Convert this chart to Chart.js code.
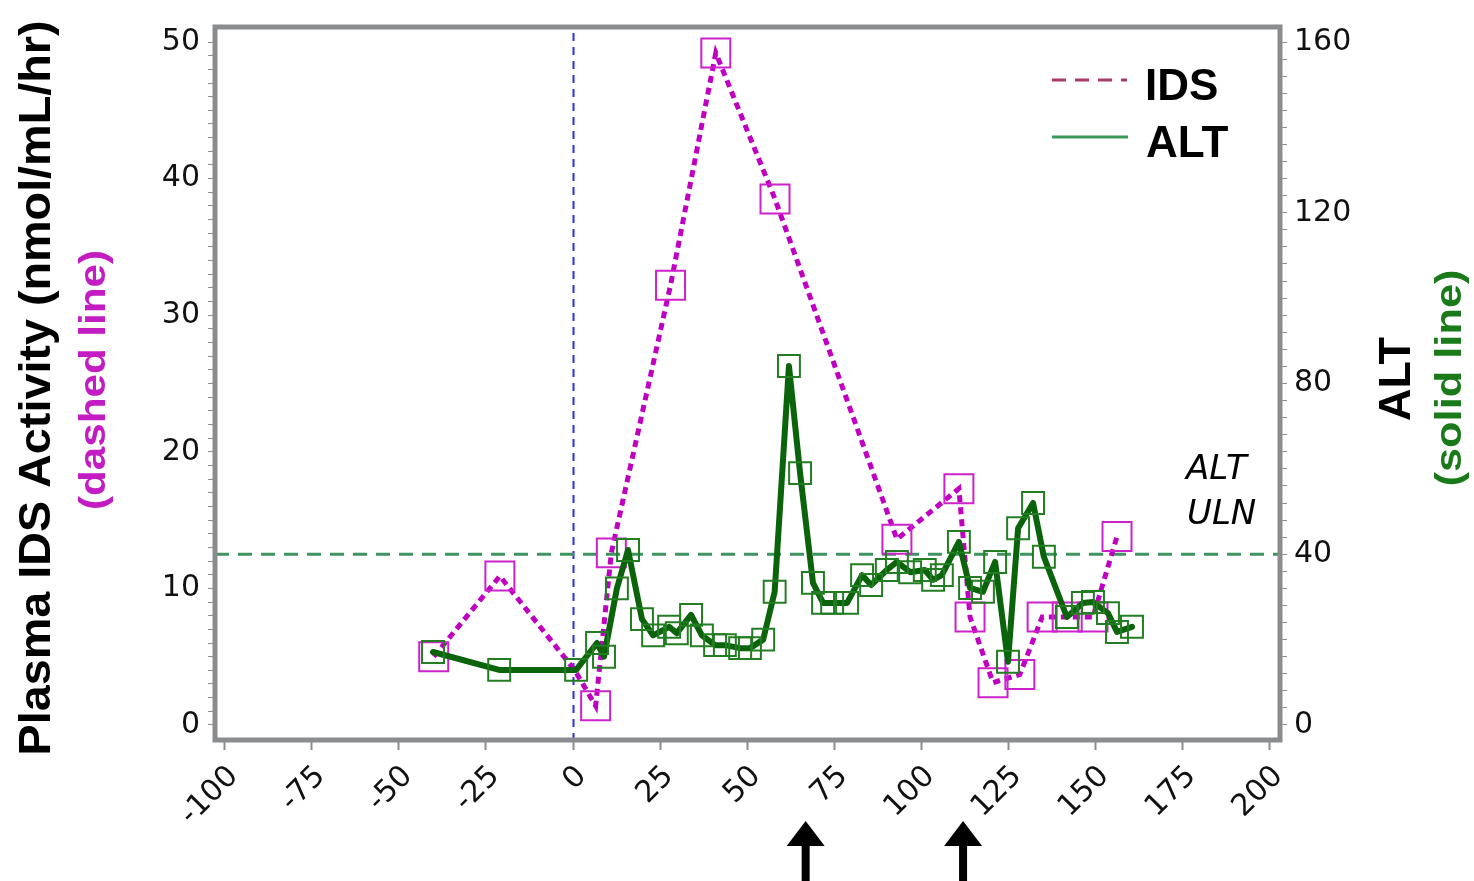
<!DOCTYPE html>
<html>
<head>
<meta charset="utf-8">
<script src="https://cdn.jsdelivr.net/npm/chart.js@4"></script>
<style>
  html, body { margin: 0; padding: 0; background: #fff; }
  #box { width: 1474px; height: 881px; }
</style>
</head>
<body>
<div id="box"><canvas id="chart"></canvas></div>
<script>
// days and values
const IDS_DAYS = [-40, -21, 0.5, 6.5, 11, 28, 41, 58, 93, 110.8, 114, 120.6, 128.3, 134.7, 141.9, 149.3, 156.2]
const IDS_VALUES = [5.0, 10.9, 4.0, 1.4, 12.6, 32.2, 49.2, 38.5, 13.6, 17.3, 7.9, 3.1, 3.7, 7.9, 7.9, 7.9, 13.8]

const ALT_DAYS = [-40.2, -21.2, 0.9, 6.9, 8.9, 12.6, 15.8, 19.8, 23, 27.6, 29.8, 33.9, 37, 40.8, 43.6, 48, 50.8, 54.6, 57.9,
  62, 65.2, 68.9, 71.8, 74.4, 78.7, 83, 85.6, 90.1, 93, 96.8, 101, 103.4, 105.9, 110.8, 114, 117.7, 121.2, 124.9, 127.8,
  132.1, 135.2, 141.8, 146.4, 149.3, 153.6, 156.2, 160.5]
const ALT_VALUES = [17.1, 12.9, 12.9, 19.2, 16, 32, 41, 24.8, 21, 23, 21.5, 25.8, 21, 18.7, 18.7, 18, 18, 20, 31.2,
  84.1, 59, 33.3, 28.6, 28.6, 28.6, 35.1, 32.8, 36.3, 38.2, 35.8, 36.3, 34, 35.1, 42.9, 32.1, 31.2, 38.2, 14.8, 46.1,
  52, 39.4, 25.3, 28.6, 28.8, 26.2, 21.8, 23]

// tick values
const X_TICKS = [-100, -75, -50, -25, 0, 25, 50, 75, 100, 125, 150, 175, 200]
const IDS_TICKS = [0, 10, 20, 30, 40, 50]
const ALT_TICKS = [0, 40, 80, 120, 160]

const ALT_ULN = 40
const DOSE_DAY = 0
const ARROW_DAYS = [66.8, 112]


// list of ticks with minor steps
function stepTicks(from, to, step) {
  const result = []

  for (let v = from; v <= to; v += step) {
    result.push({ value: v })
  }

  return result
}


// rotated text squeezed to a length
function sideText(ctx, text, cx, cy, font, color, length) {
  ctx.save()
  ctx.translate(cx, cy)
  ctx.rotate(-Math.PI / 2)
  ctx.font = font
  ctx.fillStyle = color
  ctx.textAlign = "center"
  ctx.textBaseline = "middle"
  const w = ctx.measureText(text).width
  ctx.scale(length / w, 1)
  ctx.fillText(text, 0, 0)
  ctx.restore()
}


// frame, reference lines, titles, legend and arrows
const extras = {
  id: "extras",

  beforeDatasetsDraw(chart) {
    const ctx = chart.ctx
    const a = chart.chartArea
    const x = chart.scales.x
    const y1 = chart.scales.y1

    ctx.save()

    // dose day line
    const dx = Math.round(x.getPixelForValue(DOSE_DAY)) + 0.5
    ctx.strokeStyle = "#2b2be8"
    ctx.lineWidth = 2
    ctx.setLineDash([8, 6])
    ctx.beginPath()
    ctx.moveTo(dx, a.top + 6)
    ctx.lineTo(dx, a.bottom)
    ctx.stroke()

    // upper limit of normal
    const uy = y1.getPixelForValue(ALT_ULN)
    ctx.strokeStyle = "#3d9460"
    ctx.lineWidth = 3
    ctx.setLineDash([14, 9])
    ctx.beginPath()
    ctx.moveTo(a.left, uy)
    ctx.lineTo(a.right, uy)
    ctx.stroke()

    ctx.restore()
  },

  afterDraw(chart) {
    const ctx = chart.ctx
    const a = chart.chartArea
    const x = chart.scales.x

    ctx.save()

    // grey frame
    ctx.strokeStyle = "#8a8c8e"
    ctx.lineWidth = 5
    ctx.setLineDash([])
    ctx.strokeRect(a.left, a.top, a.right - a.left, a.bottom - a.top)

    // legend
    ctx.lineWidth = 3
    ctx.strokeStyle = "#a83a6c"
    ctx.setLineDash([14, 9])
    ctx.beginPath()
    ctx.moveTo(a.right - 228, 80)
    ctx.lineTo(a.right - 153, 80)
    ctx.stroke()

    ctx.strokeStyle = "#3a9a5a"
    ctx.setLineDash([])
    ctx.beginPath()
    ctx.moveTo(a.right - 228, 137)
    ctx.lineTo(a.right - 152, 137)
    ctx.stroke()

    ctx.fillStyle = "#000"
    ctx.font = "bold 44px 'Liberation Sans', Arial, sans-serif"
    ctx.textBaseline = "alphabetic"
    ctx.fillText("IDS", a.right - 135, 100)
    ctx.fillText("ALT", a.right - 134, 157)

    // ULN label
    ctx.font = "italic 34px 'DejaVu Sans', sans-serif"
    ctx.fillText("ALT", a.right - 94, 479)
    ctx.fillText("ULN", a.right - 93, 524)

    // axis titles
    sideText(ctx, "Plasma IDS Activity (nmol/mL/hr)", 38, 388,
      "bold 44px 'Liberation Sans', Arial, sans-serif", "#000", 735)
    sideText(ctx, "(dashed line)", 95, 380,
      "bold 36px 'Liberation Sans', Arial, sans-serif", "#c21cc2", 260)
    sideText(ctx, "ALT", 1398, 379,
      "bold 44px 'Liberation Sans', Arial, sans-serif", "#000", 84)
    sideText(ctx, "(solid line)", 1451, 378,
      "bold 36px 'Liberation Sans', Arial, sans-serif", "#1a7a1a", 217)

    // arrows under the axis
    ctx.fillStyle = "#000"
    ARROW_DAYS.forEach(function (day) {
      const px = x.getPixelForValue(day)
      ctx.beginPath()
      ctx.moveTo(px, 821)
      ctx.lineTo(px + 19, 846)
      ctx.lineTo(px + 4, 846)
      ctx.lineTo(px + 4, 881)
      ctx.lineTo(px - 4, 881)
      ctx.lineTo(px - 4, 846)
      ctx.lineTo(px - 19, 846)
      ctx.closePath()
      ctx.fill()
    })

    ctx.restore()
  },
}


const tickFont = { family: "'DejaVu Sans', sans-serif", size: 30 }

new Chart(document.getElementById("chart"), {
  type: "line",
  data: {
    datasets: [
      {
        label: "IDS",
        data: IDS_DAYS.map(function (d, i) { return { x: d, y: IDS_VALUES[i] } }),
        yAxisID: "y",
        order: 2,
        borderColor: "#c000c0",
        borderWidth: 5,
        borderDash: [7, 5],
        tension: 0,
        pointStyle: "rect",
        pointRadius: function (c) { return c.dataIndex === 2 ? 0 : 20.5 },
        pointBorderColor: "#cc22cc",
        pointBorderWidth: 2,
        pointBackgroundColor: "rgba(0,0,0,0)",
      },
      {
        label: "ALT",
        data: ALT_DAYS.map(function (d, i) { return { x: d, y: ALT_VALUES[i] } }),
        yAxisID: "y1",
        order: 1,
        borderColor: "#0b640b",
        borderWidth: 6,
        borderJoinStyle: "round",
        borderCapStyle: "round",
        tension: 0,
        pointStyle: "rect",
        pointRadius: 15.5,
        pointBorderColor: "#237d23",
        pointBorderWidth: 2,
        pointBackgroundColor: "rgba(0,0,0,0)",
      },
    ],
  },
  options: {
    responsive: true,
    maintainAspectRatio: false,
    animation: false,
    layout: { padding: { top: 27, left: 0, right: 0, bottom: 0 } },
    plugins: { legend: { display: false }, tooltip: { enabled: false } },
    scales: {
      x: {
        type: "linear",
        min: -102.8,
        max: 203,
        afterBuildTicks: function (s) { s.ticks = X_TICKS.map(function (v) { return { value: v } }) },
        afterFit: function (s) { s.height = 141 },
        border: { display: false },
        grid: { drawOnChartArea: false, tickLength: 10, tickColor: "#8a8c8e", tickWidth: 2 },
        ticks: {
          font: tickFont, color: "#111", autoSkip: false, maxRotation: 45, minRotation: 45,
          padding: 9, labelOffset: 9,
        },
      },
      y: {
        position: "left",
        min: -1.1,
        max: 51.1,
        afterBuildTicks: function (s) { s.ticks = stepTicks(0, 50, 1) },
        afterFit: function (s) { s.width = 215 },
        border: { display: false },
        grid: { drawOnChartArea: false, tickLength: 7, tickColor: "#8a8c8e", tickWidth: 1 },
        ticks: {
          font: tickFont, color: "#111", autoSkip: false, padding: 8,
          callback: function (v) { return IDS_TICKS.includes(v) ? String(v) : "" },
        },
      },
      y1: {
        position: "right",
        min: -3.52,
        max: 163.52,
        afterBuildTicks: function (s) { s.ticks = stepTicks(0, 160, 4) },
        afterFit: function (s) { s.width = 194 },
        border: { display: false },
        grid: { drawOnChartArea: false, tickLength: 7, tickColor: "#8a8c8e", tickWidth: 1 },
        ticks: {
          font: tickFont, color: "#111", autoSkip: false, padding: 7,
          callback: function (v) { return ALT_TICKS.includes(v) ? String(v) : "" },
        },
      },
    },
  },
  plugins: [extras],
})
</script>
</body>
</html>
